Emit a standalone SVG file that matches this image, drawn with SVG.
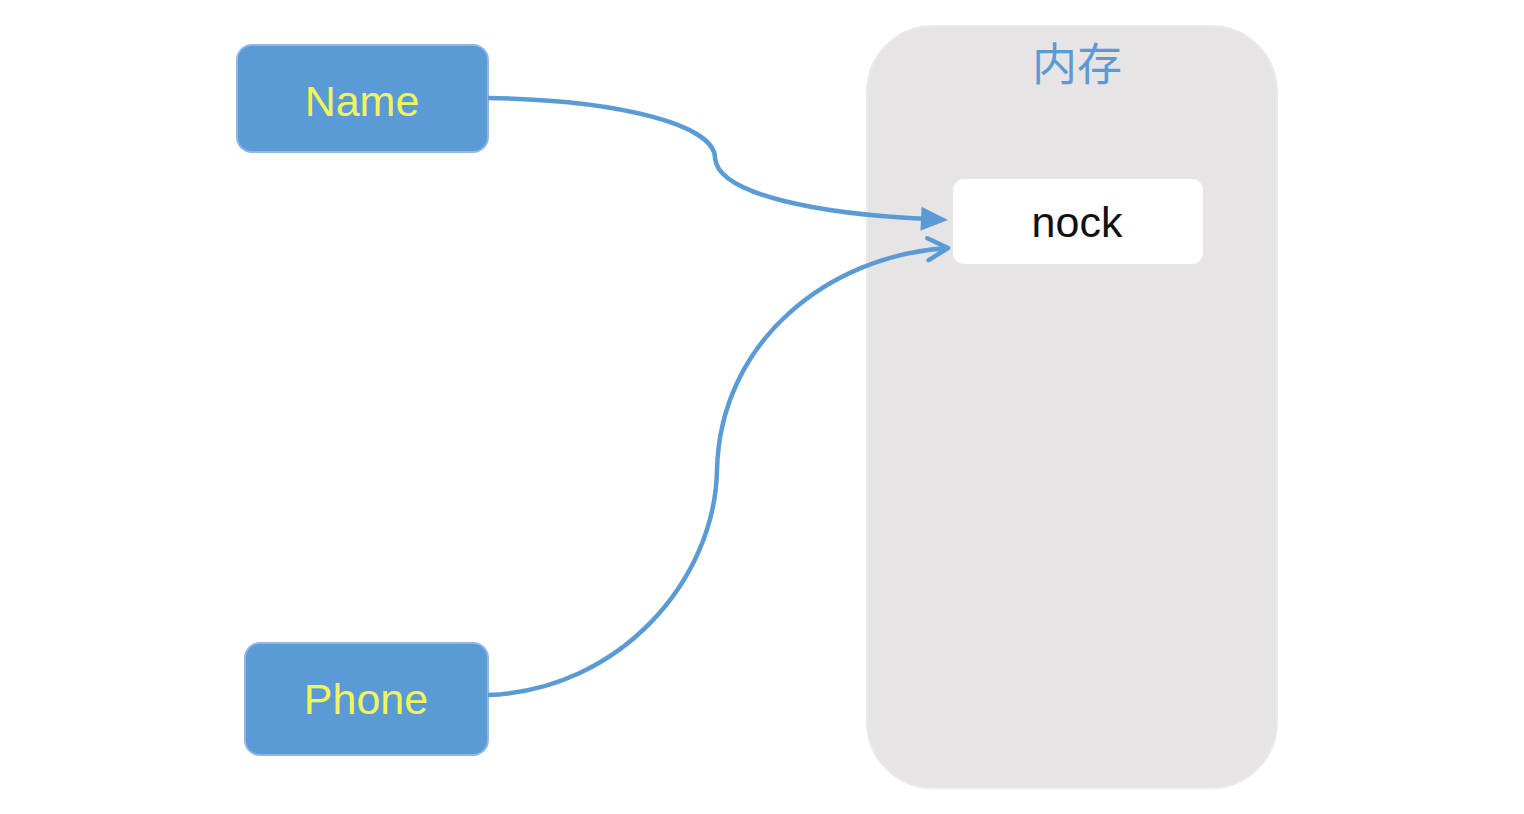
<svg xmlns="http://www.w3.org/2000/svg" width="1524" height="814" viewBox="0 0 1524 814">
<style>
.src{fill:#5B9BD5;stroke:#8DB8E6;stroke-width:2}
.srct{font-family:"Liberation Sans",Arial,sans-serif;font-size:43px;fill:#F2F55A;text-anchor:middle}
.conn{fill:none;stroke:#5B9BD5;stroke-width:4.5}
</style>
<defs>
<marker id="tri" markerUnits="userSpaceOnUse" markerWidth="34" markerHeight="30" refX="8" refY="13" orient="auto">
<path d="M2,1 L29,13 L2,25 Z" fill="#5B9BD5"/>
</marker>
<marker id="open" markerUnits="userSpaceOnUse" markerWidth="34" markerHeight="30" refX="26" refY="13" orient="auto">
<path d="M6,2 L26,13 L6,24" fill="none" stroke="#5B9BD5" stroke-width="4.5" stroke-linecap="round" stroke-linejoin="round"/>
</marker>
</defs>
<rect width="1524" height="814" fill="#FFFFFF"/>
<g id="memory">
<rect x="867" y="26" width="410" height="762" rx="66" fill="#E6E4E5" stroke="#EBEAEA" stroke-width="2"/>
<text x="1077" y="81" font-family="'Noto Sans CJK SC',sans-serif" font-size="45" fill="#5B9BD5" text-anchor="middle">内存</text>
</g>
<g id="nock">
<rect x="953" y="179" width="250" height="85" rx="11" fill="#FFFFFF"/>
<text x="1077" y="237" font-family="'Liberation Sans',Arial,sans-serif" font-size="43" fill="#111111" text-anchor="middle">nock</text>
</g>
<g id="name">
<rect class="src" x="237" y="45" width="251" height="107" rx="15"/>
<text class="srct" x="362" y="116">Name</text>
</g>
<g id="phone">
<rect class="src" x="245" y="643" width="243" height="112" rx="15"/>
<text class="srct" x="366" y="714">Phone</text>
</g>
<g id="connectors">
<path class="conn" d="M488,98 C620,100 715,125 715,158 C718,195 820,214 927,219" marker-end="url(#tri)"/>
<path class="conn" d="M488,695 C620,690 715,580 717,470 C720,340 830,255 948,248" marker-end="url(#open)"/>
</g>
</svg>
